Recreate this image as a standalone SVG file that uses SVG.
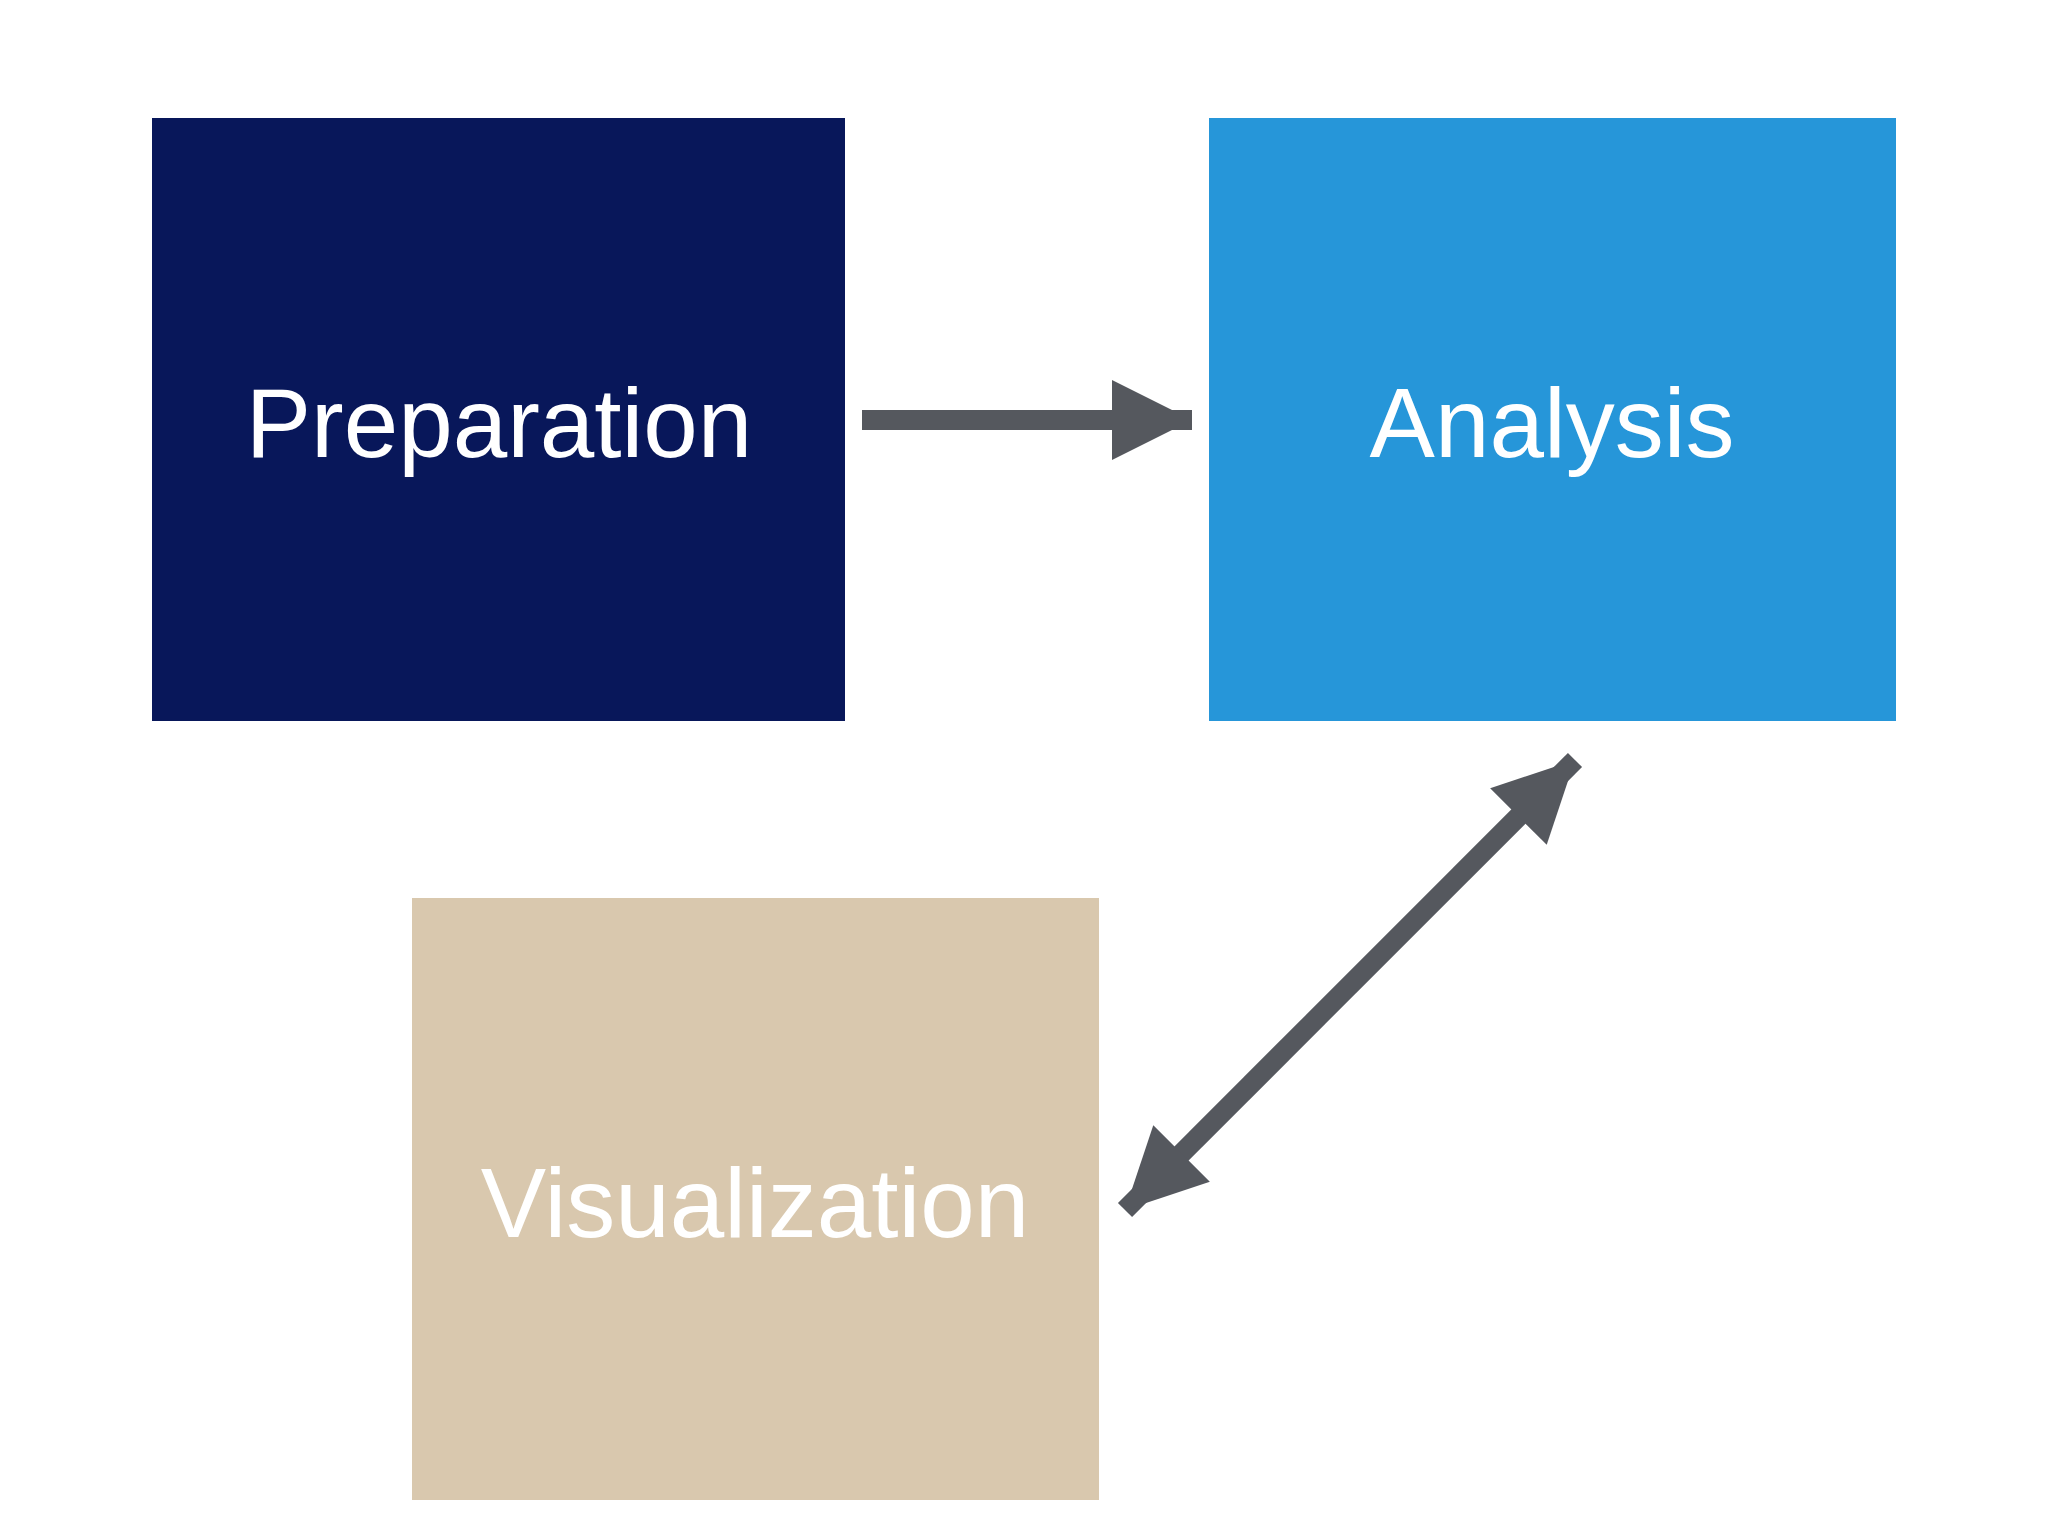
<svg xmlns="http://www.w3.org/2000/svg" width="2048" height="1536" viewBox="0 0 2048 1536">
<defs>
<style>
.lbl{font-family:"Liberation Sans",Arial,sans-serif;font-size:98px;fill:#ffffff;text-anchor:middle}
.ln{stroke:#55585e;stroke-width:20;fill:none}
</style>
<marker id="ah" viewBox="0 0 10 10" refX="10" refY="5" markerWidth="4" markerHeight="4" markerUnits="strokeWidth" orient="auto-start-reverse">
<path d="M0,0 L10,5 L0,10 z" fill="#55585e"/>
</marker>
</defs>
<rect width="2048" height="1536" fill="#ffffff"/>
<g id="preparation">
<rect x="152" y="118" width="693" height="603" fill="#08175a"/>
<text class="lbl" x="499" y="457">Preparation</text>
</g>
<g id="analysis">
<rect x="1209" y="118" width="687" height="603" fill="#2696d9"/>
<text class="lbl" x="1552" y="457">Analysis</text>
</g>
<g id="visualization">
<rect x="412" y="898" width="687" height="602" fill="#d9c8ae"/>
<text class="lbl" x="755" y="1237">Visualization</text>
</g>
<g id="connectors">
<line class="ln" x1="862" y1="420" x2="1192" y2="420" marker-end="url(#ah)"/>
<line class="ln" x1="1125" y1="1210" x2="1575" y2="760" marker-start="url(#ah)" marker-end="url(#ah)"/>
</g>
</svg>
